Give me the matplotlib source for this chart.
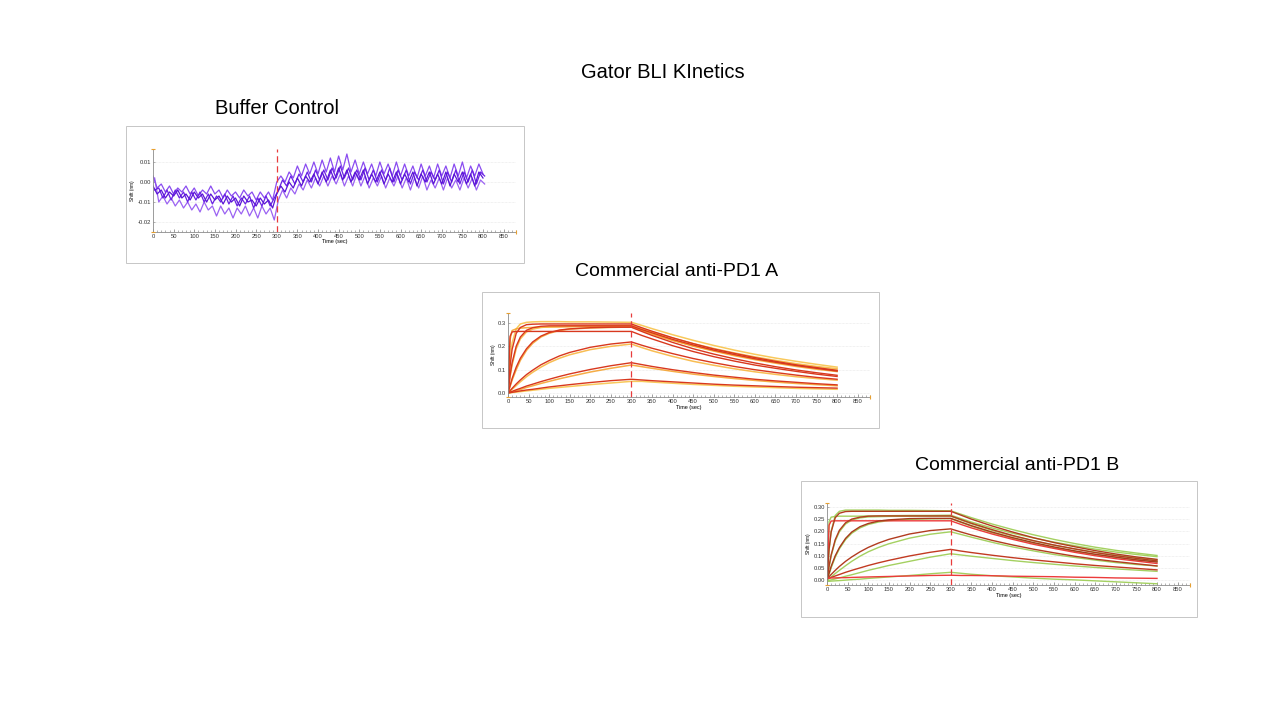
import matplotlib
matplotlib.use("Agg")
import matplotlib.pyplot as plt
from matplotlib.patches import Rectangle

plt.rcParams['font.family'] = ['Liberation Sans', 'DejaVu Sans']

# ---- buffer control (nm), one value every 10 s ----
t_buf = list(range(0, 801, 10))
t_buf_mid = list(range(4, 805, 10))
buf_1 = [-0.002, -0.006, -0.004, -0.008, -0.005, -0.007, -0.004, -0.008, -0.006, -0.009,
         -0.005, -0.008, -0.006, -0.010, -0.006, -0.009, -0.007, -0.011, -0.007, -0.010,
         -0.008, -0.012, -0.007, -0.010, -0.009, -0.012, -0.008, -0.011, -0.009, -0.013,
         -0.006, -0.002, -0.005, 0.000, -0.003, 0.002, -0.002, 0.003, 0.000, 0.004,
         -0.001, 0.005, 0.000, 0.006, 0.001, 0.007, 0.001, 0.006, 0.000, 0.005,
         0.001, 0.006, -0.001, 0.004, 0.000, 0.005, -0.001, 0.004, 0.000, 0.005,
         -0.001, 0.004, 0.000, 0.005, -0.002, 0.004, 0.000, 0.005, -0.001, 0.004,
         -0.001, 0.005, -0.002, 0.004, 0.000, 0.005, -0.001, 0.004, -0.002, 0.005,
         0.002]
buf_2 = [0.002, -0.010, -0.007, -0.011, -0.008, -0.012, -0.009, -0.013, -0.010, -0.014,
         -0.011, -0.015, -0.010, -0.014, -0.012, -0.017, -0.012, -0.016, -0.013, -0.018,
         -0.013, -0.016, -0.012, -0.017, -0.013, -0.018, -0.012, -0.016, -0.013, -0.019,
         -0.009, -0.004, -0.008, -0.003, -0.006, -0.001, -0.004, 0.001, -0.003, 0.002,
         -0.002, 0.003, -0.002, 0.003, -0.001, 0.004, -0.002, 0.003, -0.002, 0.004,
         -0.002, 0.003, -0.003, 0.002, -0.002, 0.003, -0.003, 0.002, -0.002, 0.003,
         -0.003, 0.002, -0.004, 0.002, -0.003, 0.003, -0.004, 0.001, -0.003, 0.002,
         -0.004, 0.002, -0.003, 0.001, -0.004, 0.002, -0.003, 0.002, -0.004, 0.001,
         -0.001]
buf_3 = [0.003, -0.003, -0.001, -0.005, -0.002, -0.006, -0.003, -0.005, -0.002, -0.006,
         -0.003, -0.007, -0.004, -0.006, -0.002, -0.006, -0.004, -0.008, -0.004, -0.007,
         -0.005, -0.008, -0.004, -0.007, -0.005, -0.009, -0.005, -0.008, -0.005, -0.009,
         0.000, 0.003, 0.000, 0.005, 0.002, 0.008, 0.003, 0.009, 0.004, 0.010,
         0.004, 0.011, 0.005, 0.012, 0.005, 0.013, 0.006, 0.014, 0.005, 0.011,
         0.004, 0.010, 0.004, 0.009, 0.003, 0.010, 0.004, 0.009, 0.003, 0.010,
         0.003, 0.009, 0.003, 0.008, 0.002, 0.009, 0.003, 0.008, 0.002, 0.009,
         0.003, 0.008, 0.002, 0.009, 0.003, 0.010, 0.002, 0.008, 0.003, 0.009,
         0.004]
buf_4 = [-0.004, -0.003, -0.008, -0.004, -0.009, -0.004, -0.008, -0.005, -0.010, -0.005,
         -0.009, -0.005, -0.010, -0.006, -0.011, -0.007, -0.010, -0.006, -0.011, -0.007,
         -0.012, -0.008, -0.011, -0.007, -0.013, -0.008, -0.012, -0.007, -0.012, -0.008,
         -0.004, 0.001, -0.002, 0.003, -0.001, 0.004, 0.000, 0.005, 0.000, 0.006,
         0.001, 0.006, 0.001, 0.007, 0.002, 0.008, 0.002, 0.007, 0.001, 0.006,
         0.001, 0.007, 0.001, 0.006, 0.000, 0.006, 0.001, 0.007, 0.000, 0.006,
         0.001, 0.006, -0.001, 0.005, 0.001, 0.006, 0.000, 0.005, 0.001, 0.006,
         -0.001, 0.005, 0.000, 0.006, -0.001, 0.005, 0.000, 0.006, -0.001, 0.005,
         0.003]

# ---- kinetics panels (nm) sampled at these times (s) ----
t_kin = [0, 5, 10, 20, 30, 45, 60, 80, 100, 125, 150, 200, 250, 300,
         325, 350, 400, 450, 500, 550, 600, 650, 700, 750, 800]

# Commercial anti-PD1 A: fitted curves
a_fit_1 = [0, 0.243, 0.262, 0.264, 0.264, 0.264, 0.264, 0.264, 0.264, 0.264, 0.264, 0.264, 0.264, 0.264,
           0.247, 0.232, 0.203, 0.178, 0.156, 0.137, 0.120, 0.106, 0.093, 0.081, 0.071]
a_fit_2 = [0, 0.116, 0.187, 0.256, 0.281, 0.293, 0.295, 0.296, 0.296, 0.296, 0.296, 0.296, 0.296, 0.296,
           0.280, 0.265, 0.237, 0.212, 0.189, 0.170, 0.152, 0.136, 0.121, 0.109, 0.097]
a_fit_3 = [0, 0.075, 0.130, 0.201, 0.240, 0.269, 0.280, 0.286, 0.288, 0.288, 0.288, 0.288, 0.288, 0.288,
           0.272, 0.258, 0.230, 0.206, 0.184, 0.165, 0.147, 0.132, 0.118, 0.106, 0.094]
a_fit_4 = [0, 0.031, 0.062, 0.111, 0.149, 0.190, 0.219, 0.244, 0.259, 0.270, 0.275, 0.280, 0.282, 0.282,
           0.264, 0.247, 0.217, 0.190, 0.167, 0.147, 0.129, 0.113, 0.099, 0.087, 0.076]
a_fit_5 = [0, 0.010, 0.020, 0.039, 0.056, 0.079, 0.098, 0.121, 0.139, 0.159, 0.174, 0.196, 0.210, 0.219,
           0.205, 0.192, 0.169, 0.148, 0.130, 0.114, 0.100, 0.088, 0.077, 0.067, 0.059]
a_fit_6 = [0, 0.004, 0.007, 0.014, 0.020, 0.030, 0.038, 0.049, 0.059, 0.071, 0.082, 0.101, 0.117, 0.130,
           0.122, 0.114, 0.100, 0.088, 0.077, 0.068, 0.059, 0.052, 0.046, 0.040, 0.035]
a_fit_7 = [0, 0.002, 0.003, 0.006, 0.009, 0.013, 0.016, 0.021, 0.026, 0.031, 0.036, 0.045, 0.053, 0.059,
           0.056, 0.053, 0.048, 0.043, 0.038, 0.034, 0.031, 0.028, 0.025, 0.023, 0.021]
# Commercial anti-PD1 A: measured traces
a_dat_1 = [0, 0.140, 0.215, 0.275, 0.296, 0.303, 0.305, 0.306, 0.306, 0.306, 0.305, 0.305, 0.304, 0.303,
           0.290, 0.276, 0.250, 0.226, 0.204, 0.184, 0.166, 0.150, 0.136, 0.123, 0.111]
a_dat_2 = [0, 0.230, 0.268, 0.275, 0.278, 0.280, 0.281, 0.282, 0.283, 0.283, 0.284, 0.285, 0.286, 0.287,
           0.270, 0.254, 0.226, 0.201, 0.180, 0.160, 0.143, 0.128, 0.114, 0.102, 0.092]
a_dat_3 = [0, 0.070, 0.120, 0.190, 0.232, 0.262, 0.274, 0.281, 0.284, 0.286, 0.287, 0.288, 0.289, 0.290,
           0.276, 0.262, 0.236, 0.212, 0.191, 0.172, 0.155, 0.140, 0.126, 0.114, 0.104]
a_dat_4 = [0, 0.028, 0.055, 0.100, 0.140, 0.183, 0.213, 0.240, 0.256, 0.268, 0.274, 0.279, 0.281, 0.283,
           0.268, 0.253, 0.226, 0.203, 0.182, 0.163, 0.147, 0.132, 0.119, 0.107, 0.097]
a_dat_5 = [0, 0.008, 0.016, 0.032, 0.048, 0.070, 0.089, 0.111, 0.130, 0.149, 0.164, 0.186, 0.200, 0.210,
           0.195, 0.181, 0.157, 0.136, 0.119, 0.104, 0.091, 0.080, 0.070, 0.062, 0.055]
a_dat_6 = [0, 0.002, 0.005, 0.010, 0.015, 0.024, 0.031, 0.041, 0.050, 0.061, 0.071, 0.090, 0.106, 0.120,
           0.113, 0.106, 0.093, 0.081, 0.071, 0.062, 0.054, 0.047, 0.041, 0.036, 0.031]
a_dat_7 = [0, 0.001, 0.002, 0.004, 0.006, 0.009, 0.012, 0.016, 0.020, 0.024, 0.028, 0.036, 0.043, 0.050,
           0.050, 0.047, 0.042, 0.037, 0.033, 0.029, 0.026, 0.023, 0.020, 0.018, 0.016]

# Commercial anti-PD1 B: fitted curves
b_fit_1 = [0.005, 0.225, 0.242, 0.243, 0.243, 0.243, 0.243, 0.243, 0.243, 0.243, 0.243, 0.243, 0.243, 0.243,
           0.228, 0.214, 0.189, 0.167, 0.147, 0.130, 0.114, 0.100, 0.088, 0.078, 0.068]
b_fit_2 = [0.005, 0.127, 0.197, 0.256, 0.274, 0.281, 0.282, 0.282, 0.282, 0.282, 0.282, 0.282, 0.282, 0.282,
           0.266, 0.250, 0.222, 0.197, 0.174, 0.154, 0.137, 0.121, 0.107, 0.095, 0.085]
b_fit_3 = [0.005, 0.058, 0.103, 0.166, 0.204, 0.235, 0.250, 0.258, 0.262, 0.263, 0.263, 0.263, 0.263, 0.263,
           0.248, 0.233, 0.207, 0.183, 0.162, 0.144, 0.128, 0.113, 0.100, 0.089, 0.079]
b_fit_4 = [0.005, 0.028, 0.056, 0.100, 0.133, 0.171, 0.197, 0.219, 0.232, 0.242, 0.247, 0.252, 0.253, 0.253,
           0.238, 0.223, 0.197, 0.174, 0.154, 0.136, 0.120, 0.106, 0.094, 0.083, 0.074]
b_fit_5 = [0.005, 0.014, 0.023, 0.040, 0.056, 0.077, 0.095, 0.116, 0.134, 0.152, 0.167, 0.189, 0.203, 0.210,
           0.197, 0.185, 0.163, 0.144, 0.127, 0.112, 0.098, 0.086, 0.076, 0.067, 0.058]
b_fit_6 = [0.005, 0.008, 0.011, 0.017, 0.023, 0.032, 0.040, 0.050, 0.060, 0.071, 0.081, 0.099, 0.114, 0.126,
           0.119, 0.113, 0.102, 0.092, 0.083, 0.075, 0.067, 0.060, 0.054, 0.048, 0.042]
b_fit_7 = [0.008, 0.008, 0.009, 0.009, 0.010, 0.010, 0.011, 0.012, 0.013, 0.014, 0.015, 0.017, 0.019, 0.020,
           0.019, 0.019, 0.018, 0.016, 0.015, 0.014, 0.012, 0.011, 0.009, 0.008, 0.007]
# Commercial anti-PD1 B: measured traces
b_dat_1 = [0, 0.120, 0.200, 0.265, 0.282, 0.287, 0.287, 0.287, 0.287, 0.287, 0.286, 0.286, 0.285, 0.284,
           0.270, 0.256, 0.230, 0.207, 0.186, 0.167, 0.150, 0.135, 0.122, 0.111, 0.101]
b_dat_2 = [0, 0.240, 0.258, 0.261, 0.262, 0.262, 0.262, 0.262, 0.263, 0.263, 0.264, 0.265, 0.265, 0.266,
           0.252, 0.238, 0.214, 0.192, 0.173, 0.156, 0.141, 0.127, 0.115, 0.105, 0.096]
b_dat_3 = [0, 0.052, 0.098, 0.160, 0.198, 0.230, 0.246, 0.255, 0.259, 0.260, 0.261, 0.262, 0.262, 0.262,
           0.246, 0.231, 0.204, 0.181, 0.161, 0.143, 0.128, 0.114, 0.102, 0.092, 0.083]
b_dat_4 = [0, 0.024, 0.050, 0.094, 0.128, 0.166, 0.192, 0.214, 0.228, 0.238, 0.244, 0.249, 0.251, 0.252,
           0.236, 0.221, 0.194, 0.171, 0.151, 0.133, 0.118, 0.105, 0.094, 0.084, 0.076]
b_dat_5 = [0, 0.006, 0.013, 0.027, 0.040, 0.059, 0.077, 0.098, 0.116, 0.134, 0.149, 0.172, 0.188, 0.198,
           0.187, 0.176, 0.155, 0.136, 0.120, 0.105, 0.093, 0.082, 0.072, 0.064, 0.058]
b_dat_6 = [-0.002, -0.001, 0.001, 0.005, 0.009, 0.016, 0.022, 0.031, 0.040, 0.050, 0.060, 0.077, 0.094, 0.108,
           0.103, 0.098, 0.089, 0.080, 0.072, 0.065, 0.058, 0.052, 0.046, 0.041, 0.036]
b_dat_7 = [-0.005, -0.005, -0.004, -0.003, -0.002, 0.000, 0.002, 0.004, 0.007, 0.010, 0.013, 0.019, 0.026, 0.032,
           0.028, 0.024, 0.018, 0.013, 0.008, 0.004, 0.001, -0.003, -0.007, -0.011, -0.015]

buf_ticks = [-0.02, -0.01, 0.0, 0.01]
a_ticks = [0.0, 0.1, 0.2, 0.3]
b_ticks = [0.0, 0.05, 0.10, 0.15, 0.20, 0.25, 0.30]
x_ticks = list(range(0, 851, 50))

W, H = 1280, 720
fig = plt.figure(figsize=(12.8, 7.2), dpi=100)


def frame(x0, y0, x1, y1):
    # light grey picture frame, pixel coords from top-left
    fig.patches.append(Rectangle((x0 / W, 1 - y1 / H), (x1 - x0) / W, (y1 - y0) / H,
                                 transform=fig.transFigure, fill=False,
                                 edgecolor='#c6c6c6', linewidth=0.7))


def bli_axes(x0, x1, ytop, ybot, ylim, yticks, yfmt):
    ax = fig.add_axes([x0 / W, 1 - ybot / H, (x1 - x0) / W, (ybot - ytop) / H])
    ax.set_xlim(0, 880)
    ax.set_ylim(*ylim)
    for s in ['top', 'right']:
        ax.spines[s].set_visible(False)
    for s in ['left', 'bottom']:
        ax.spines[s].set_color('#8c8c8c')
        ax.spines[s].set_linewidth(0.6)
    ax.set_xticks(x_ticks)
    ax.set_xticks(range(0, 881, 10), minor=True)
    ax.set_yticks(yticks)
    ax.set_yticklabels([yfmt.format(v) for v in yticks])
    ax.tick_params(axis='both', labelsize=4.2, colors='#333333', pad=1.5)
    ax.tick_params(axis='x', which='major', direction='in', length=2.5, width=0.5, color='#777777')
    ax.tick_params(axis='x', which='minor', direction='in', length=1.6, width=0.4, color='#777777')
    ax.tick_params(axis='y', direction='in', length=1.5, width=0.4, color='#777777')
    for v in yticks:
        ax.axhline(v, color='#e4e4e4', linewidth=0.5, linestyle=(0, (1, 1)), zorder=0)
    ax.set_xlabel('Time (sec)', fontsize=4.0, labelpad=0.3)
    ax.set_ylabel('Shift (nm)', fontsize=3.4, labelpad=1.5)
    ax.plot([0, 0], [ylim[0], ylim[1]], color='#e8a030', linewidth=0, marker='_',
            markersize=3, markeredgewidth=0.8, clip_on=False, zorder=5)
    ax.plot([880], [ylim[0]], color='#e8a030', marker='|', markersize=3,
            markeredgewidth=0.8, clip_on=False, zorder=5)
    ax.axvline(300, color='#e83c3c', linewidth=0.9, linestyle=(0, (5, 3)), zorder=6)
    return ax


# titles
fig.text(663 / W, 1 - 73 / H, 'Gator BLI KInetics', ha='center', va='center', fontsize=14.5)
fig.text(277 / W, 1 - 109 / H, 'Buffer Control', ha='center', va='center', fontsize=14.5)
fig.text(677 / W, 1 - 271 / H, 'Commercial anti-PD1 A', ha='center', va='center', fontsize=14)
fig.text(1017 / W, 1 - 465 / H, 'Commercial anti-PD1 B', ha='center', va='center', fontsize=14)

# buffer control
frame(126, 126, 524, 263)
ax1 = bli_axes(153, 516, 149, 232, (-0.025, 0.0165), buf_ticks, '{:.2f}')
ax1.plot(t_buf_mid, buf_2, color='#9b62f2', linewidth=0.9)
ax1.plot(t_buf, buf_3, color='#8a4cf0', linewidth=0.9)
ax1.plot(t_buf_mid, buf_4, color='#6a22e4', linewidth=0.9)
ax1.plot(t_buf, buf_1, color='#5a14d6', linewidth=0.9)

# anti-PD1 A
frame(482, 292, 879, 428)
ax2 = bli_axes(508, 870, 313, 397, (-0.017, 0.343), a_ticks, '{:.1f}')
for y, c in zip([a_dat_1, a_dat_2, a_dat_3, a_dat_4, a_dat_5, a_dat_6, a_dat_7],
                ['#f8c34a', '#f5a431', '#f8b640', '#f5a431', '#f8b640', '#f5a431', '#f8c34a']):
    ax2.plot(t_kin, y, color=c, linewidth=1.1, alpha=0.9)
for y in [a_fit_1, a_fit_2, a_fit_3, a_fit_4, a_fit_5, a_fit_6, a_fit_7]:
    ax2.plot(t_kin, y, color='#d8381e', linewidth=1.0)

# anti-PD1 B
frame(801, 481, 1197, 617)
ax3 = bli_axes(827, 1190, 503, 585, (-0.02, 0.316), b_ticks, '{:.2f}')
for y in [b_dat_1, b_dat_2, b_dat_3, b_dat_4, b_dat_5, b_dat_6, b_dat_7]:
    ax3.plot(t_kin, y, color='#9fce58', linewidth=1.0, alpha=0.95)
for y, c in zip([b_fit_1, b_fit_2, b_fit_3, b_fit_4, b_fit_5, b_fit_6, b_fit_7],
                ['#ec3b3b', '#b23c20', '#b23c20', '#a8381c', '#b23c20', '#c23a22', '#ec3b3b']):
    ax3.plot(t_kin, y, color=c, linewidth=1.0)

fig.savefig('out.png', dpi=100)
